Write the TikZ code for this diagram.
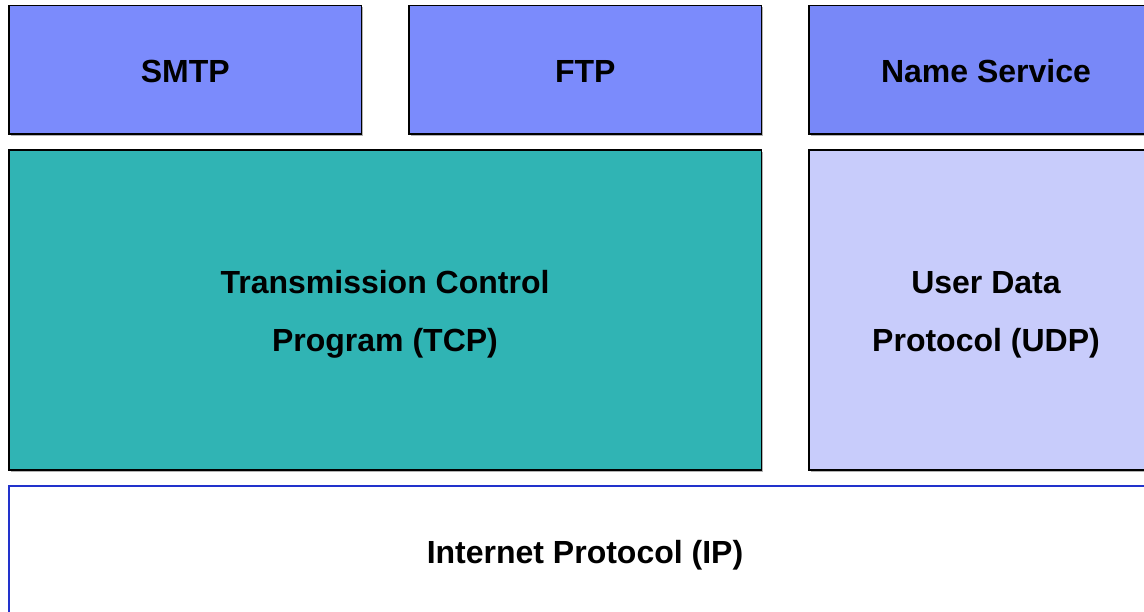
\documentclass[tikz,border=0pt]{standalone}
\usepackage{fontspec}
\setmainfont{Liberation Sans}
\begin{document}
\begin{tikzpicture}[x=1pt,y=-1pt,
  layer/.style={draw=black,line width=1.8pt,inner sep=0pt,outer sep=0pt,anchor=north west},
  caption/.style={font=\fontsize{32}{38}\selectfont\bfseries,anchor=base,inner sep=0pt,text=black}]
\definecolor{appblue}{HTML}{7B8BFC}
\definecolor{nameblue}{HTML}{7888F8}
\definecolor{tcpteal}{HTML}{30B4B4}
\definecolor{udplilac}{HTML}{C8CCFB}
\definecolor{ipblue}{HTML}{2233CC}
\useasboundingbox (0,0) rectangle (1144,611);
\clip (0,0) rectangle (1144,611);
% drop shadows under the protocol boxes
\foreach \x/\y/\w/\h in {9/5.5/352.5/128.5, 409/5.5/352.5/128.5, 809/5.5/353/128.5, 9/150/752.5/320, 809/150/353/320}
  \fill[gray!60] (\x+1.6,\y+1.6) rectangle ++(\w,\h);
% application layer
\node[layer,fill=appblue,minimum width=352.5pt,minimum height=128.5pt] (smtp) at (9,5.5) {};
\node[layer,fill=appblue,minimum width=352.5pt,minimum height=128.5pt] (ftp) at (409,5.5) {};
\node[layer,fill=nameblue,minimum width=353pt,minimum height=128.5pt] (ns) at (809,5.5) {};
% transport layer
\node[layer,fill=tcpteal,minimum width=752.5pt,minimum height=320pt] (tcp) at (9,150) {};
\node[layer,fill=udplilac,minimum width=353pt,minimum height=320pt] (udp) at (809,150) {};
% network layer
\node[layer,draw=ipblue,fill=white,minimum width=1153pt,minimum height=140pt] (ip) at (9,486) {};
% labels
\node[caption] (smtp-t) at (185.3,82.5) {SMTP};
\node[caption] (ftp-t) at (585.3,82.5) {FTP};
\node[caption] (ns-t) at (986,82.5) {Name Service};
\node[caption] (tcp-t1) at (385,293.5) {Transmission Control};
\node[caption] (tcp-t2) at (385,351) {Program (TCP)};
\node[caption] (udp-t1) at (986,293.5) {User Data};
\node[caption] (udp-t2) at (986,351) {Protocol (UDP)};
\node[caption] (ip-t) at (585,563) {Internet Protocol (IP)};
\end{tikzpicture}
\end{document}
